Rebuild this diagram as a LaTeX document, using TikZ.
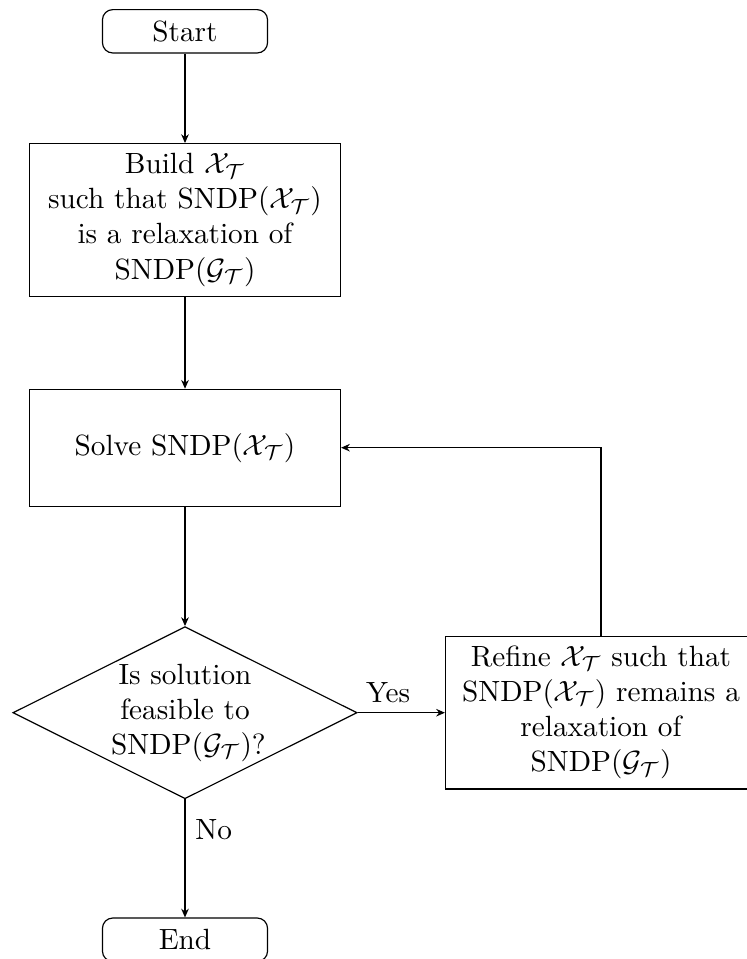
\documentclass[tikz,border=0pt]{standalone}
\usetikzlibrary{shapes.geometric,arrows.meta}
\begin{document}
\begin{tikzpicture}[x=0.34165pt,y=-0.34165pt,
  term/.style={draw, rounded corners=3.5pt, minimum width=56.4pt, minimum height=14.8pt, inner sep=2pt},
  proc/.style={draw, align=center, minimum width=106.25pt, inner sep=3.33pt},
  dec/.style={draw, diamond, aspect=2, align=center, text width=50.5pt, inner sep=0pt, minimum width=117.6pt, minimum height=58.8pt},
  arr/.style={-{Stealth[length=3pt,width=2.6pt]}}]
\useasboundingbox (0,0) rectangle (747,959);
\node[term] (start) at (185,31.3) {Start};
\node[proc] (build) at (185,219.9) {Build $\mathcal{X}_{\mathcal{T}}$\\ such that SNDP($\mathcal{X}_{\mathcal{T}}$)\\ is a relaxation of\\ SNDP($\mathcal{G}_{\mathcal{T}}$)};
\node[proc, minimum height=39.9pt] (solve) at (185,447.7) {Solve SNDP($\mathcal{X}_{\mathcal{T}}$)};
\node[dec] (dec) at (185,712.7) {Is solution\\ feasible to\\ SNDP($\mathcal{G}_{\mathcal{T}}$)?};
\node[proc] (refine) at (601,712.5) {Refine $\mathcal{X}_{\mathcal{T}}$ such that\\ SNDP($\mathcal{X}_{\mathcal{T}}$) remains a\\ relaxation of\\ SNDP($\mathcal{G}_{\mathcal{T}}$)};
\node[term] (end) at (185,939.7) {End};
\draw[arr] (start) -- (build);
\draw[arr] (build) -- (solve);
\draw[arr] (solve) -- (dec);
\draw[arr] (dec.east) -- node[above, pos=0.35] (yes) {Yes} (dec.east -| refine.west);
\draw[arr] (refine.north) |- (solve.east);
\draw[arr] (dec) -- node[right, pos=0.26] (no) {No} (end);
\end{tikzpicture}
\end{document}
